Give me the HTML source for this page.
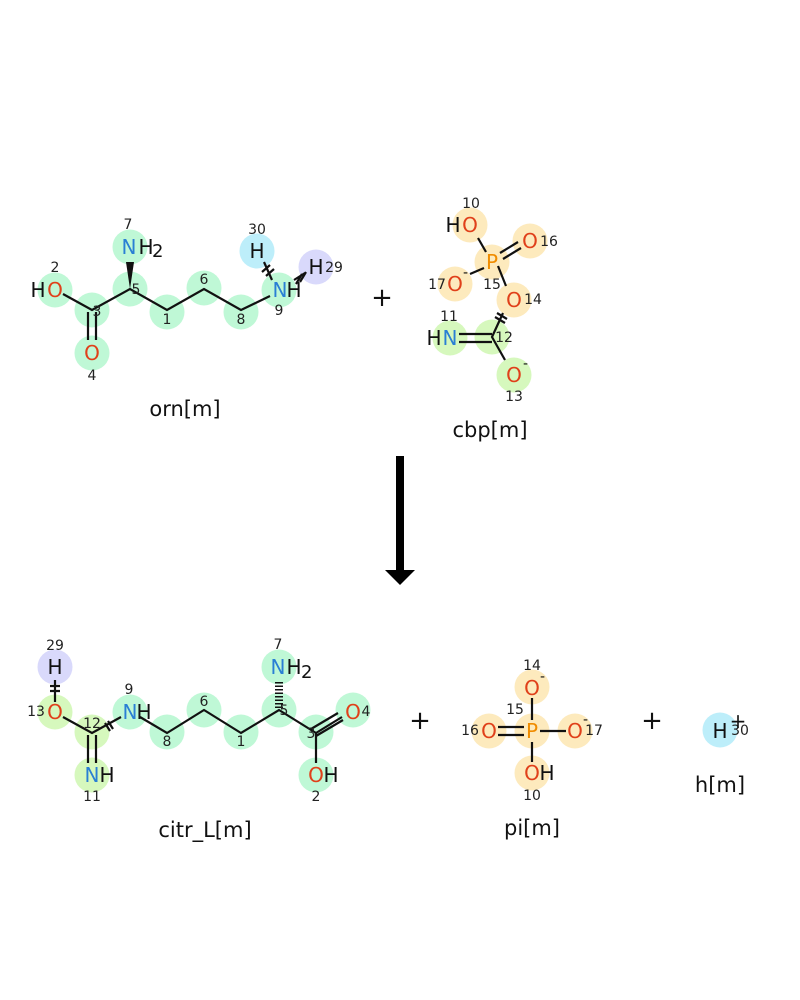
<!DOCTYPE html>
<html><head><meta charset="utf-8"><style>
html,body{margin:0;padding:0;background:#fff;}
svg{display:block}
text{font-family:"DejaVu Sans","Liberation Sans",sans-serif;}
.a{font-size:20px;dominant-baseline:central;text-anchor:middle}
.i{font-size:14px;dominant-baseline:central;text-anchor:middle;fill:#222}
.l{font-size:21px;text-anchor:middle;fill:#111}
.O{fill:#e0401a}.N{fill:#2a7fd4}.P{fill:#f08c00}.H{fill:#111}
.b{stroke:#111;stroke-width:2.2;fill:none}
.g{fill:#bff8d6}.y{fill:#fdeabd}.lg{fill:#d6f8bd}.bl{fill:#bdeefa}.pu{fill:#d9d9fb}
</style></head><body>
<svg width="800" height="1000" viewBox="0 0 800 1000">
<!-- ORN -->
<g>
<circle class="g" cx="55" cy="290" r="17.5"/><circle class="g" cx="92" cy="310" r="17.5"/><circle class="g" cx="92" cy="353" r="17.5"/>
<circle class="g" cx="130" cy="289" r="17.5"/><circle class="g" cx="130" cy="247" r="17.5"/><circle class="g" cx="167" cy="312" r="17.5"/>
<circle class="g" cx="204" cy="288" r="17.5"/><circle class="g" cx="241" cy="312" r="17.5"/><circle class="g" cx="279" cy="290" r="17.5"/>
<circle class="bl" cx="257" cy="251" r="17.5"/><circle class="pu" cx="316" cy="267" r="17.5"/>
<path class="b" d="M63 294L92 310L130 289L167 310L204 289L241 310L270 296"/>
<path class="b" d="M88 312V340M96 312V340"/>
<polygon points="130,289 126,262 134,262" fill="#111"/>
<path class="b" d="M264 262L272 280" /><path class="b" d="M262 272L270 265M266 276L274 269" stroke-width="2.5"/>
<path class="b" d="M294 280L305 273M296 284L302 274M300 282L306 272" stroke-width="2"/>
<text class="a H" x="38" y="290">H</text><text class="a O" x="55" y="290">O</text>
<text class="a O" x="92" y="353">O</text>
<text class="a N" x="129" y="247">N</text><text class="a H" x="146" y="247">H</text><text x="152" y="257" style="font-size:18px" class="H">2</text>
<text class="a H" x="257" y="251">H</text>
<text class="a N" x="280" y="290">N</text><text class="a H" x="294" y="290">H</text>
<text class="a H" x="316" y="267">H</text>
<text class="i" x="55" y="268">2</text><text class="i" x="97" y="312">3</text><text class="i" x="92" y="376">4</text>
<text class="i" x="136" y="290">5</text><text class="i" x="128" y="225">7</text><text class="i" x="167" y="320">1</text>
<text class="i" x="204" y="280">6</text><text class="i" x="241" y="320">8</text><text class="i" x="279" y="311">9</text>
<text class="i" x="257" y="230">30</text><text class="i" x="334" y="268">29</text>
<text class="l" x="185" y="416">orn[m]</text>
</g>
<text x="382" y="306" style="font-size:26px;text-anchor:middle" class="H">+</text>
<!-- CBP -->
<g>
<circle class="y" cx="470" cy="225" r="17.5"/><circle class="y" cx="492" cy="262" r="17.5"/><circle class="y" cx="530" cy="241" r="17.5"/>
<circle class="y" cx="455" cy="284" r="17.5"/><circle class="y" cx="514" cy="300" r="17.5"/>
<circle class="lg" cx="492" cy="337" r="17.5"/><circle class="lg" cx="450" cy="338" r="17.5"/><circle class="lg" cx="514" cy="375" r="17.5"/>
<path class="b" d="M478 238L486 252M498 266L506 286M470 274L484 268M503 313L492 337L505 360"/>
<path class="b" d="M500 253L518 242M503 259L521 248"/>
<path class="b" d="M459 334H492M459 342H492"/>
<path class="b" d="M495 317L505 323M497 313L507 319" stroke-width="2.5"/>
<text class="a H" x="453" y="225">H</text><text class="a O" x="470" y="225">O</text>
<text class="a P" x="492" y="262">P</text><text class="a O" x="530" y="241">O</text>
<text class="a O" x="455" y="284">O</text><text x="463" y="277" style="font-size:14px" class="H">-</text>
<text class="a O" x="514" y="300">O</text>
<text class="a H" x="434" y="338">H</text><text class="a N" x="450" y="338">N</text>
<text class="a O" x="514" y="375">O</text><text x="523" y="368" style="font-size:14px" class="H">-</text>
<text class="i" x="471" y="204">10</text><text class="i" x="549" y="242">16</text><text class="i" x="437" y="285">17</text>
<text class="i" x="492" y="285">15</text><text class="i" x="533" y="300">14</text><text class="i" x="449" y="317">11</text>
<text class="i" x="504" y="338">12</text><text class="i" x="514" y="397">13</text>
<text class="l" x="490" y="437">cbp[m]</text>
</g>
<!-- Arrow -->
<rect x="396" y="456" width="8" height="116" fill="#000"/>
<polygon points="385,570 415,570 400,585" fill="#000"/>
<!-- CITR -->
<g>
<circle class="pu" cx="55" cy="667" r="17.5"/><circle class="lg" cx="55" cy="712" r="17.5"/><circle class="lg" cx="92" cy="732" r="17.5"/>
<circle class="lg" cx="92" cy="775" r="17.5"/><circle class="g" cx="130" cy="712" r="17.5"/><circle class="g" cx="167" cy="732" r="17.5"/>
<circle class="g" cx="204" cy="710" r="17.5"/><circle class="g" cx="241" cy="732" r="17.5"/><circle class="g" cx="279" cy="710" r="17.5"/>
<circle class="g" cx="279" cy="667" r="17.5"/><circle class="g" cx="316" cy="732" r="17.5"/><circle class="g" cx="353" cy="710" r="17.5"/>
<circle class="g" cx="316" cy="775" r="17.5"/>
<path class="b" d="M55 680V702M50 686H60M50 691H60"/>
<path class="b" d="M63 717L92 733L121 717M140 717L167 733L204 710L241 733L279 710L316 733L342 717"/>
<path class="b" d="M105 723L110 731M108 721L113 729" stroke-width="2.5"/>
<path class="b" d="M88 735V763M96 735V763"/>
<path class="b" d="M316 736L343 720M311 729L338 713"/>
<path class="b" d="M316 733V763"/>
<path d="M279 708V680" stroke="#111" stroke-width="8" stroke-dasharray="1.5 2" fill="none"/>
<text class="a H" x="55" y="667">H</text><text class="a O" x="55" y="712">O</text>
<text class="a N" x="92" y="775">N</text><text class="a H" x="107" y="775">H</text>
<text class="a N" x="130" y="712">N</text><text class="a H" x="144" y="712">H</text>
<text class="a N" x="278" y="667">N</text><text class="a H" x="294" y="667">H</text><text x="301" y="678" style="font-size:18px" class="H">2</text>
<text class="a O" x="353" y="712">O</text>
<text class="a O" x="316" y="775">O</text><text class="a H" x="331" y="775">H</text>
<text class="i" x="55" y="646">29</text><text class="i" x="36" y="712">13</text><text class="i" x="92" y="724">12</text>
<text class="i" x="92" y="797">11</text><text class="i" x="129" y="690">9</text><text class="i" x="167" y="742">8</text>
<text class="i" x="204" y="702">6</text><text class="i" x="241" y="742">1</text><text class="i" x="284" y="711">5</text>
<text class="i" x="278" y="645">7</text><text class="i" x="311" y="734">3</text><text class="i" x="366" y="712">4</text>
<text class="i" x="316" y="797">2</text>
<text class="l" x="205" y="837">citr_L[m]</text>
</g>
<text x="420" y="729" style="font-size:26px;text-anchor:middle" class="H">+</text>
<!-- PI -->
<g>
<circle class="y" cx="532" cy="687" r="17.5"/><circle class="y" cx="532" cy="731" r="17.5"/><circle class="y" cx="489" cy="731" r="17.5"/>
<circle class="y" cx="575" cy="731" r="17.5"/><circle class="y" cx="532" cy="773" r="17.5"/>
<path class="b" d="M532 698V720M532 742V762M540 731H566"/>
<path class="b" d="M498 727H524M498 735H524"/>
<text class="a O" x="532" y="688">O</text><text x="540" y="681" style="font-size:14px" class="H">-</text>
<text class="a P" x="532" y="731">P</text><text class="a O" x="489" y="731">O</text>
<text class="a O" x="575" y="731">O</text><text x="583" y="724" style="font-size:14px" class="H">-</text>
<text class="a O" x="532" y="773">O</text><text class="a H" x="547" y="773">H</text>
<text class="i" x="532" y="666">14</text><text class="i" x="515" y="710">15</text><text class="i" x="470" y="731">16</text>
<text class="i" x="594" y="731">17</text><text class="i" x="532" y="796">10</text>
<text class="l" x="532" y="835">pi[m]</text>
</g>
<text x="652" y="729" style="font-size:26px;text-anchor:middle" class="H">+</text>
<!-- H -->
<circle class="bl" cx="720" cy="730" r="17.5"/>
<text class="a H" x="720" y="731">H</text>
<text class="i" x="740" y="731">30</text>
<text x="738" y="728" style="font-size:20px;text-anchor:middle" class="H">+</text>
<text class="l" x="720" y="792">h[m]</text>
</svg>
</body></html>
